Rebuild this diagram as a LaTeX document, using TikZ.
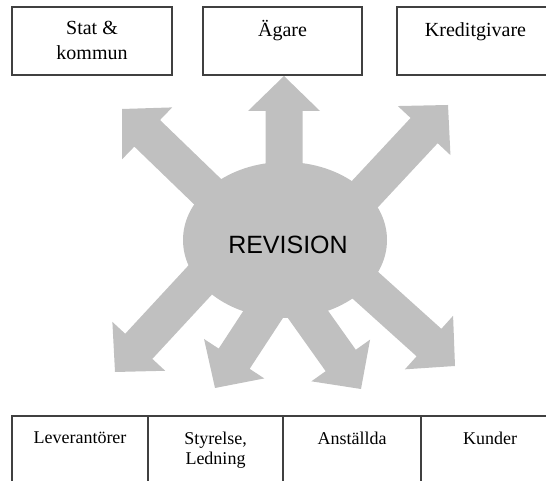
\documentclass[tikz,border=0pt]{standalone}
\usepackage{fontspec}
\setmainfont{Liberation Serif}
\setsansfont{Liberation Sans}
\usetikzlibrary{positioning}

\definecolor{revfill}{HTML}{C0C0C0}
\definecolor{boxline}{HTML}{404040}

\tikzset{
  revgrey/.style={fill=revfill},
  partbox/.style={draw=boxline, line width=0.75pt, rectangle, inner sep=0pt},
  toptext/.style={inner sep=0pt, align=center, font=\fontsize{10}{12.5}\selectfont},
  bottext/.style={inner sep=0pt, align=center, font=\fontsize{9}{10}\selectfont},
}

\begin{document}
\begin{tikzpicture}[x=0.5pt,y=0.5pt]
\useasboundingbox (0,0) rectangle (546,481);
\clip (0,0) rectangle (546,481);

\coordinate (mid) at (285,241);

% the arrows out of the middle
\foreach \tx/\ty/\ang/\len in {284/405/90/164, 122/372/136/208, 448/376/47/210,
  455/115/-42/210, 361/92/-54.6/165, 215/93/-123.2/162, 115/109/-132.8/212}{
  \fill[revgrey, shift={(\tx,\ty)}, rotate=\ang] (0,0) -- (-35,36) -- (-35,18.5)
    -- (-\len,18.5) -- (-\len,-18.5) -- (-35,-18.5) -- (-35,-36) -- cycle;
}
\fill[revgrey] (mid) ellipse (102 and 78);
\node[font=\sffamily\fontsize{12.5}{14}\selectfont] (rev) at (288,236) {REVISION};

% top row
\node[partbox, minimum width=80pt, minimum height=34pt] (stat) at (92,440) {};
\node[partbox, minimum width=79.5pt, minimum height=34pt] (agare) at (282.5,440) {};
\node[partbox, minimum width=78.5pt, minimum height=34pt] (kredit) at (475.5,440) {};
\node[toptext, below=7.5pt of stat.north] (statT) {Stat \&\\kommun};
\node[toptext, below=6.75pt of agare.north] (agareT) {Ägare};
\node[toptext, below=8pt of kredit.north] (kreditT) {Kreditgivare};

% bottom row
\node[partbox, minimum width=68pt, minimum height=37.5pt] (lev) at (80,27.5) {};
\node[partbox, minimum width=67.5pt, minimum height=37.5pt] (sty) at (215.5,27.5) {};
\node[partbox, minimum width=69pt, minimum height=37.5pt] (ans) at (352,27.5) {};
\node[partbox, minimum width=69pt, minimum height=37.5pt] (kun) at (490,27.5) {};
\node[bottext, below=8pt of lev.north] (levT) {Leverantörer};
\node[bottext, below=8pt of sty.north] (styT) {Styrelse,\\Ledning};
\node[bottext, below=8pt of ans.north] (ansT) {Anställda};
\node[bottext, below=8pt of kun.north] (kunT) {Kunder};

\end{tikzpicture}
\end{document}
